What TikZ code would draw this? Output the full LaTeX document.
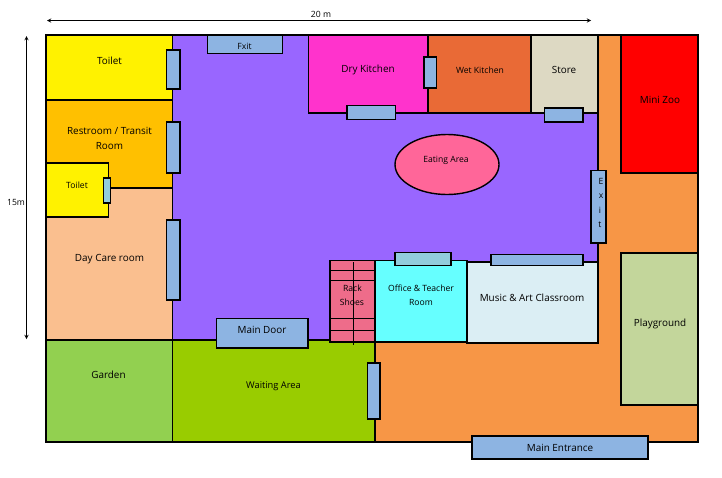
\documentclass[tikz,border=0pt]{standalone}
\usepackage{fontspec}
\setmainfont{Open Sans}
\usetikzlibrary{arrows}
\usepackage{xcolor}

\definecolor{doorblue}{HTML}{8DB4E2}
\definecolor{doorteal}{HTML}{92CDDC}
\definecolor{hallpurple}{HTML}{9966FF}
\definecolor{yardorange}{HTML}{F79646}

\tikzset{
    wall/.style={draw=black, line width=1.4pt},
    door/.style={draw=black, line width=1.7pt, fill=doorblue},
    lbl/.style={font=\fontsize{9.9}{11}\selectfont, text=black, inner sep=0pt},
    smalllbl/.style={font=\fontsize{8.6}{10}\selectfont, text=black, inner sep=0pt},
    dim/.style={draw=black, line width=0.9pt, stealth-stealth}
}

\begin{document}
\begin{tikzpicture}[x=1pt,y=-1pt]
        \useasboundingbox (0,0) rectangle (722,477);
        \fill[white] (0,0) rectangle (722,477);

        % outside and hall
        \filldraw[wall, fill=yardorange] (598,35) -- (698,35) -- (698,442) -- (375,442) -- (375,262) -- (598,262) -- cycle;
        \filldraw[wall, fill=hallpurple] (172.3,35) rectangle (598,340);

        % left wing
        \filldraw[wall, fill=yellow] (46,35) rectangle (172.3,100);
        \filldraw[wall, fill={rgb,255:red,255;green,192;blue,0}] (46,100) rectangle (172.3,188);
        \filldraw[wall, fill={rgb,255:red,250;green,191;blue,143}] (46,188) rectangle (172.3,340);
        \filldraw[wall, fill=yellow] (46,163) rectangle (108.5,217);
        \filldraw[wall, fill={rgb,255:red,146;green,208;blue,80}] (46,340) rectangle (172.3,442);
        \filldraw[wall, fill={rgb,255:red,153;green,204;blue,0}] (172.3,340) rectangle (375,442);

        % kitchen row
        \filldraw[wall, fill={rgb,255:red,255;green,51;blue,204}] (308.5,35) rectangle (428,113);
        \filldraw[wall, fill={rgb,255:red,233;green,106;blue,54}] (428,35) rectangle (531,113);
        \filldraw[wall, fill={rgb,255:red,221;green,217;blue,195}] (531,35) rectangle (598,113);

        % right side
        \filldraw[wall, fill=red] (621,35) rectangle (698,173);
        \filldraw[wall, fill={rgb,255:red,195;green,214;blue,155}] (621,253) rectangle (698,405);

        % classrooms
        \filldraw[wall, fill={rgb,255:red,219;green,238;blue,244}] (467,262) rectangle (598,343);
        \filldraw[wall, fill={rgb,255:red,102;green,255;blue,255}] (375,260.5) rectangle (467,342);

        % shoe rack
        \filldraw[wall, fill={rgb,255:red,238;green,108;blue,138}] (330,260.5) rectangle (375,342);
        \foreach \y in {270,280,318,330}
        \draw[black, line width=0.8pt] (330,\y) -- (375,\y);
        \draw[black, line width=0.8pt] (353.5,262) -- (353.5,345);

        \filldraw[wall, fill={rgb,255:red,255;green,102;blue,153}] (447,164.5) ellipse (52 and 30);

        % doors
        \filldraw[door] (207.5,35.5) rectangle (282.5,53.5);
        \filldraw[door] (166.5,50) rectangle (180,89);
        \filldraw[door] (166.5,122) rectangle (180,173);
        \filldraw[door, fill=doorteal, line width=1.3pt] (103.5,178) rectangle (110.5,203);
        \filldraw[door] (166.5,220) rectangle (180,300);
        \filldraw[door] (347,105.5) rectangle (395.5,119.5);
        \filldraw[door] (424,57) rectangle (436.5,88);
        \filldraw[door] (544.5,108) rectangle (583,122);
        \filldraw[door] (591,170.5) rectangle (606,243);
        \filldraw[door, fill=doorteal] (395,252.5) rectangle (451,265.5);
        \filldraw[door] (491,254.5) rectangle (583,265.5);
        \filldraw[door] (216.5,318.5) rectangle (308,348);
        \filldraw[door] (367.5,363) rectangle (380,419);
        \filldraw[door] (472,436) rectangle (648,459);

        % dimensions
        \draw[dim] (47,20.5) -- (591,20.5);
        \draw[dim] (26.5,36) -- (26.5,339);
        \node[smalllbl] (widthlbl) at (321,14) {20 m};
        \node[smalllbl] (heightlbl) at (16,202) {15m};

        % room names
        \node[lbl] (toiletlbl) at (109.5,61) {Toilet};
        \node[lbl] (restlbl) at (109.5,131) {Restroom / Transit};
        \node[lbl] (restlbltwo) at (109.5,146) {Room};
        \node[smalllbl] (toilettwolbl) at (77,185.5) {Toilet};
        \node[lbl] (carelbl) at (109.5,259) {Day Care room};
        \node[lbl] (gardenlbl) at (108.5,375) {Garden};
        \node[lbl, font=\fontsize{9.3}{11}\selectfont] (waitlbl) at (273.5,386.5) {Waiting Area};
        \node[smalllbl] (fxitlbl) at (244.5,46.5) {Fxit};
        \node[lbl] (drylbl) at (368,69.5) {Dry Kitchen};
        \node[smalllbl] (wetlbl) at (480,70.5) {Wet Kitchen};
        \node[lbl] (storelbl) at (564,69.5) {Store};
        \node[lbl] (zoolbl) at (660,99.5) {Mini Zoo};
        \node[smalllbl] (eatlbl) at (446,160.5) {Eating Area};
        \node[smalllbl] (elbl) at (601,181.5) {E};
        \node[smalllbl] (xlbl) at (601,196.5) {x};
        \node[smalllbl] (ilbl) at (600,210.5) {i};
        \node[smalllbl] (tlbl) at (600,224.5) {t};
        \node[lbl] (doorlbl) at (262,329.5) {Main Door};
        \node[smalllbl] (racklbl) at (352.5,288.5) {Rack};
        \node[smalllbl] (shoelbl) at (352,302.5) {Shoes};
        \node[smalllbl] (officelbl) at (421,288.5) {Office \& Teacher};
        \node[smalllbl] (officelbltwo) at (421,302.5) {Room};
        \node[lbl] (musiclbl) at (532,297.5) {Music \& Art Classroom};
        \node[lbl] (playlbl) at (660,324) {Playground};
        \node[lbl] (entrylbl) at (560,447.5) {Main Entrance};
    \end{tikzpicture}
\end{document}
